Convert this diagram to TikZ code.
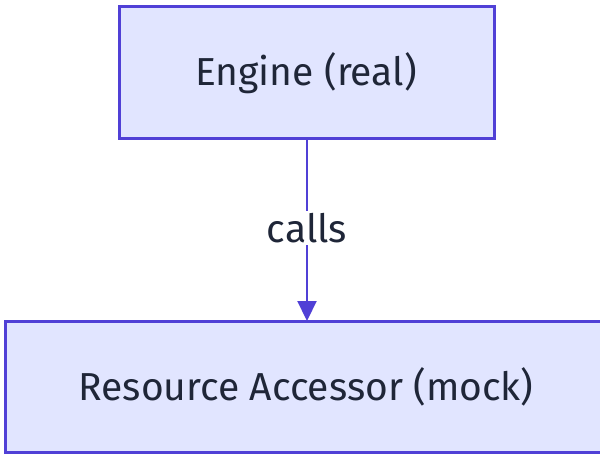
\documentclass[tikz,border=0pt]{standalone}
\usepackage{fontspec}
\setmainfont{Fira Sans}
\usetikzlibrary{arrows.meta}
\definecolor{boxfill}{RGB}{225,229,255}
\definecolor{boxline}{RGB}{80,64,214}
\definecolor{txt}{RGB}{31,38,56}
\begin{document}
\begin{tikzpicture}[x=1pt,y=-1pt,
  box/.style={draw=boxline,fill=boxfill,line width=3pt},
  lbl/.style={text=txt,font=\fontsize{39}{46}\selectfont},
  link/.style={draw=boxline,line width=2.2pt,-{Triangle[length=20pt,width=19pt]}}]
\useasboundingbox (0,0) rectangle (600,455);
\fill[white] (0,0) rectangle (600,455);
% boxes
\draw[box] (119,6) rectangle (494,138);
\draw[box] (5,321) rectangle (612,452);
\coordinate (eb) at (307,138);
\coordinate (rt) at (307,321);
\node[lbl] (engine) at (306,73) {Engine (real)};
\node[lbl] (res) at (306,387) {Resource Accessor (mock)};
% connector
\draw[link] (eb) -- (rt);
\node[lbl,fill=white,inner sep=2pt] (calls) at (307,228) {calls};
\end{tikzpicture}
\end{document}
